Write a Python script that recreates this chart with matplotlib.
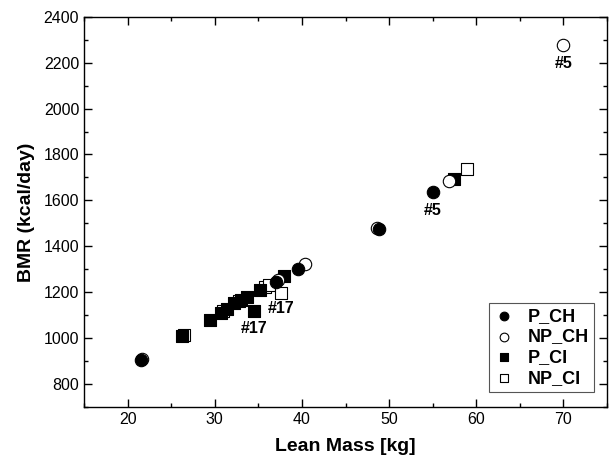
import matplotlib
matplotlib.use("Agg")
import matplotlib.pyplot as plt
from matplotlib.ticker import MultipleLocator

plt.rcParams['font.family'] = ['Liberation Sans', 'DejaVu Sans']

# Data
p_ch_x = [21.5, 37.0, 39.5, 48.8, 55.0]
p_ch_y = [905, 1245, 1300, 1475, 1635]

np_ch_x = [21.7, 37.3, 40.4, 48.6, 56.9, 70.0]
np_ch_y = [910, 1255, 1325, 1480, 1683, 2275]

p_ci_x = [26.3, 29.4, 30.7, 31.4, 32.2, 33.0, 33.7, 34.5, 35.2, 38.0, 57.4]
p_ci_y = [1010, 1081, 1111, 1127, 1152, 1166, 1178, 1117, 1208, 1272, 1692]

np_ci_x = [26.5, 31.0, 32.8, 35.8, 36.2, 37.6, 58.9]
np_ci_y = [1012, 1118, 1160, 1222, 1233, 1197, 1736]

# outlier labels: (text, x, y)
notes = [("#5", 55.0, 1556), ("#5", 70.0, 2198),
         ("#17", 34.5, 1044), ("#17", 37.6, 1130)]

fig = plt.figure(figsize=(6.1, 4.68), dpi=100)
ax = fig.add_axes([0.1377, 0.1303, 0.8574, 0.834])

# draw order so the overlaps look like the original
h_npci = ax.scatter(np_ci_x, np_ci_y, marker='s', s=64, facecolor='white',
                    edgecolor='black', linewidth=0.8, zorder=2)
h_pci = ax.scatter(p_ci_x, p_ci_y, marker='s', s=70, facecolor='black',
                   edgecolor='black', linewidth=0.8, zorder=3)
h_npch = ax.scatter(np_ch_x, np_ch_y, marker='o', s=80, facecolor='white',
                    edgecolor='black', linewidth=0.8, zorder=4)
h_pch = ax.scatter(p_ch_x, p_ch_y, marker='o', s=80, facecolor='black',
                   edgecolor='black', linewidth=0.8, zorder=5)

for txt, x, y in notes:
    ax.text(x, y, txt, ha='center', va='center', fontsize=11.5,
            fontweight='bold', zorder=6)

ax.set_xlim(15, 75)
ax.set_ylim(700, 2400)
ax.xaxis.set_major_locator(MultipleLocator(10))
ax.xaxis.set_minor_locator(MultipleLocator(5))
ax.yaxis.set_major_locator(MultipleLocator(200))
ax.yaxis.set_minor_locator(MultipleLocator(100))
ax.tick_params(which='both', direction='in', top=True, right=True,
               labelsize=11.5, width=1)
ax.tick_params(which='major', length=6)
ax.tick_params(which='minor', length=3)
for sp in ax.spines.values():
    sp.set_linewidth(1)

ax.set_xlabel('Lean Mass [kg]', fontsize=14, fontweight='bold', labelpad=8)
ax.set_ylabel('BMR (kcal/day)', fontsize=14, fontweight='bold', labelpad=6)

leg = ax.legend([h_pch, h_npch, h_pci, h_npci],
                ['P_CH', 'NP_CH', 'P_CI', 'NP_CI'],
                loc='lower right', bbox_to_anchor=(0.975, 0.038),
                prop={'weight': 'bold', 'size': 13}, fancybox=False,
                edgecolor='#555555', framealpha=1, markerscale=0.7,
                handlelength=1.0, handletextpad=0.8, labelspacing=0.2,
                borderpad=0.3, borderaxespad=0)
leg.get_frame().set_linewidth(0.8)

fig.savefig('out.png', dpi=100)
